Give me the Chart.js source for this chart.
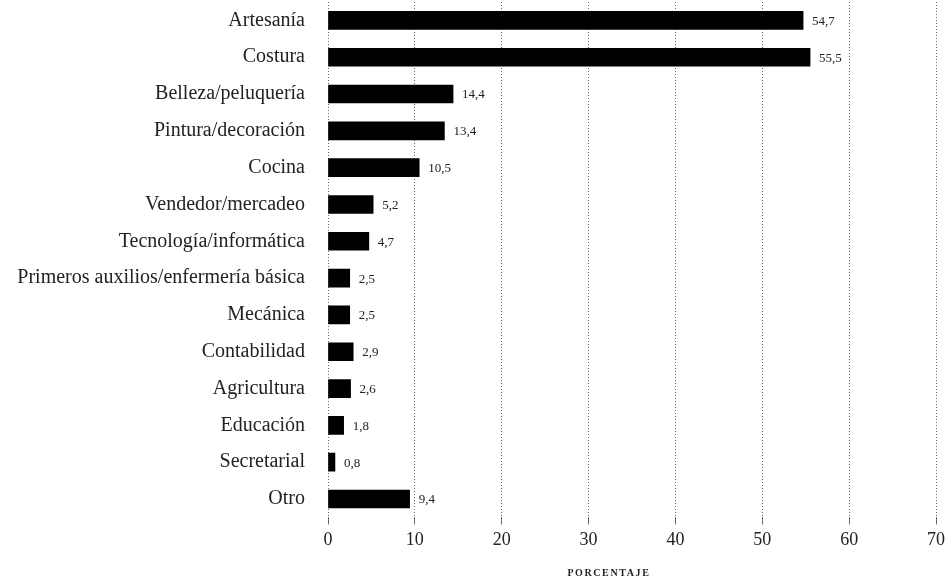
<!DOCTYPE html>
<html>
<head>
<meta charset="utf-8">
<script src="https://cdn.jsdelivr.net/npm/chart.js@4/dist/chart.umd.min.js"></script>
<style>
  html, body { margin: 0; padding: 0; background: #fff; }
  #wrap { width: 949px; height: 581px; position: relative; }
</style>
</head>
<body>
<div id="wrap"><canvas id="c"></canvas></div>
<script>
const categories = [
  "Artesanía", "Costura", "Belleza/peluquería", "Pintura/decoración", "Cocina",
  "Vendedor/mercadeo", "Tecnología/informática", "Primeros auxilios/enfermería básica",
  "Mecánica", "Contabilidad", "Agricultura", "Educación", "Secretarial", "Otro"
];
const percentages = [54.7, 55.5, 14.4, 13.4, 10.5, 5.2, 4.7, 2.5, 2.5, 2.9, 2.6, 1.8, 0.8, 9.4];
const xTicks = [0, 10, 20, 30, 40, 50, 60, 70];
const axisTitle = "PORCENTAJE";

const serif = "'Liberation Serif', 'DejaVu Serif', serif";

// Writes each bar's value (decimal comma) just past its end
const valueLabels = {
  id: "valueLabels",
  afterDatasetsDraw(chart) {
    const ctx = chart.ctx;
    const meta = chart.getDatasetMeta(0);
    ctx.save();
    ctx.font = "13px " + serif;
    ctx.fillStyle = "#222";
    ctx.textAlign = "left";
    ctx.textBaseline = "middle";
    meta.data.forEach((bar, i) => {
      const txt = percentages[i].toFixed(1).replace(".", ",");
      ctx.fillText(txt, bar.x + 9, bar.y + 1);
    });
    ctx.restore();
  }
};

// Letter-spaced axis title under the tick labels
const spacedTitle = {
  id: "spacedTitle",
  afterDraw(chart) {
    const ctx = chart.ctx;
    const a = chart.chartArea;
    ctx.save();
    ctx.font = "bold 10px " + serif;
    ctx.letterSpacing = "1.6px";
    ctx.fillStyle = "#222";
    ctx.textAlign = "center";
    ctx.textBaseline = "middle";
    ctx.fillText(axisTitle, a.left + a.width * 0.462, 573);
    ctx.restore();
  }
};

new Chart(document.getElementById("c"), {
  type: "bar",
  data: {
    labels: categories,
    datasets: [{
      data: percentages,
      backgroundColor: "#000",
      borderWidth: 0,
      barThickness: 18
    }]
  },
  options: {
    indexAxis: "y",
    responsive: true,
    maintainAspectRatio: false,
    animation: false,
    layout: { padding: { left: 0, right: 13, top: 2, bottom: 25 } },
    plugins: {
      legend: { display: false },
      tooltip: { enabled: false }
    },
    scales: {
      x: {
        min: 0,
        max: 70,
        afterBuildTicks(scale) { scale.ticks = xTicks.map(v => ({ value: v })); },
        afterFit(scale) { scale.paddingLeft = 0; scale.paddingRight = 0; },
        grid: {
          color: "#666",
          lineWidth: 1,
          tickLength: 7,
          drawTicks: true
        },
        border: { display: false, dash: [1, 2] },
        ticks: {
          color: "#222",
          font: { family: serif, size: 18 },
          padding: 5
        }
      },
      y: {
        grid: { display: false },
        border: { display: false },
        afterFit(scale) {
          scale.width = 328;
          scale.paddingTop = 0;
          scale.paddingBottom = 0;
        },
        ticks: {
          color: "#222",
          font: { family: serif, size: 20 },
          padding: 15
        }
      }
    }
  },
  plugins: [valueLabels, spacedTitle]
});
</script>
</body>
</html>
